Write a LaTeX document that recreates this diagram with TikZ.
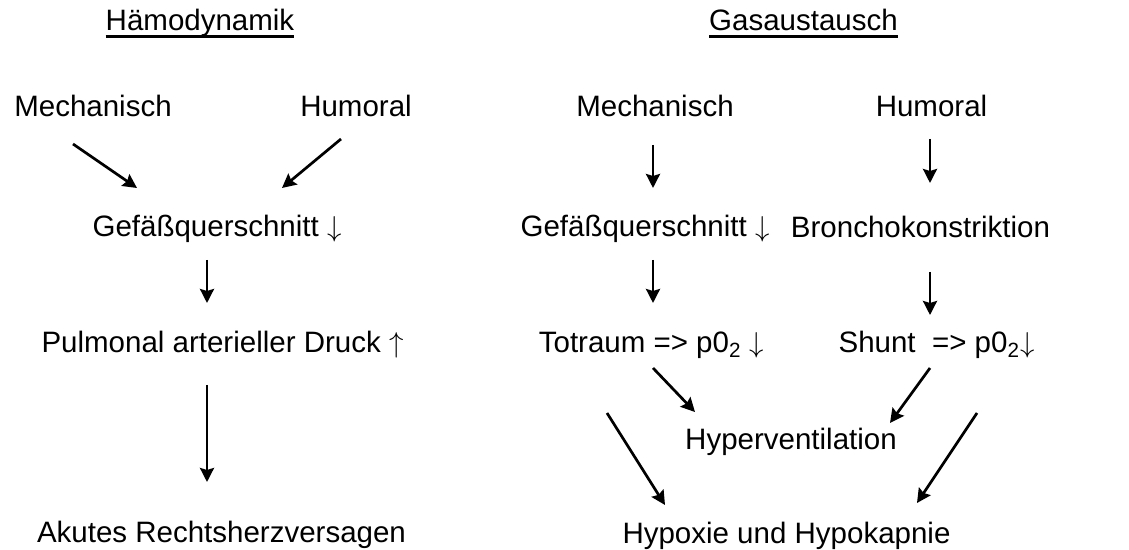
\documentclass[tikz,border=0pt]{standalone}
\usepackage{fontspec}
\setmainfont{Liberation Sans}
\usepackage{tikz}
\usetikzlibrary{arrows.meta}
\newcommand{\titleul}[1]{\setbox0\hbox{#1}\rlap{\vrule width\wd0 height -2pt depth 3.4pt}\box0}
\newcommand{\dn}{$\downarrow$}
\newcommand{\up}{$\uparrow$}
\tikzset{
  txt/.style={anchor=base, inner sep=0pt, font=\fontsize{14.75}{17}\selectfont},
  head/.style={txt},
  flow/.style={-{Stealth[length=7pt,width=7pt,inset=1pt]}, line width=1.35pt},
}
\begin{document}
\begin{tikzpicture}[x=0.5pt,y=-0.5pt]
  \useasboundingbox (0,0) rectangle (1129,550);
  % Haemodynamik
  \node[head] (hamo) at (200,31) {\titleul{Hämodynamik}};
  \node[txt] (mechL) at (93,117)    {Mechanisch};
  \node[txt] (humL)  at (356,117)   {Humoral};
  \node[txt] (gefL)  at (217,237)   {Gefäßquerschnitt \dn};
  \node[txt] (pulm)  at (222.5,353) {Pulmonal arterieller Druck \up};
  \node[txt] (akut)  at (221.5,542) {Akutes Rechtsherzversagen};
  % Gasaustausch
  \node[head] (gas) at (803.5,31) {\titleul{Gasaustausch}};
  \node[txt] (mechR)  at (655,117)   {Mechanisch};
  \node[txt] (humR)   at (931.5,117) {Humoral};
  \node[txt] (gefR)   at (645,237)   {Gefäßquerschnitt \dn};
  \node[txt] (bronch) at (920.5,238) {Bronchokonstriktion};
  \node[txt] (totr)   at (651.5,353) {Totraum => p0\textsubscript{2} \dn};
  \node[txt] (shunt)  at (936.5,353) {Shunt \ => p0\textsubscript{2}\dn};
  \node[txt] (hyper)  at (791,449)   {Hyperventilation};
  \node[txt] (hypox)  at (786.5,543) {Hypoxie und Hypokapnie};
  % arrows left
  \draw[flow] ([shift={(-20,27)}]mechL.base) -- ([shift={(-80,-49)}]gefL.base);
  \draw[flow] ([shift={(-15,22)}]humL.base) -- ([shift={(65,-49)}]gefL.base);
  \draw[flow] ([shift={(-10,23)}]gefL.base) -- ([shift={(-15.5,-50)}]pulm.base);
  \draw[flow] ([shift={(-15.5,32)}]pulm.base) -- ([shift={(-14.5,-60)}]akut.base);
  % arrows right
  \draw[flow] ([shift={(-2,28)}]mechR.base) -- ([shift={(8,-49)}]gefR.base);
  \draw[flow] ([shift={(-1.5,22)}]humR.base) -- ([shift={(9.5,-55)}]bronch.base);
  \draw[flow] ([shift={(8,23)}]gefR.base) -- ([shift={(1.5,-50)}]totr.base);
  \draw[flow] ([shift={(9.5,34)}]bronch.base) -- ([shift={(-6.5,-38)}]shunt.base);
  \draw[flow] ([shift={(1.5,15)}]totr.base) -- ([shift={(-96,-37)}]hyper.base);
  \draw[flow] ([shift={(-6.5,15)}]shunt.base) -- ([shift={(99,-26)}]hyper.base);
  \draw[flow] ([shift={(-44.5,60)}]totr.base) -- ([shift={(-121.5,-38)}]hypox.base);
  \draw[flow] ([shift={(40.5,60)}]shunt.base) -- ([shift={(130.5,-40)}]hypox.base);
\end{tikzpicture}
\end{document}
